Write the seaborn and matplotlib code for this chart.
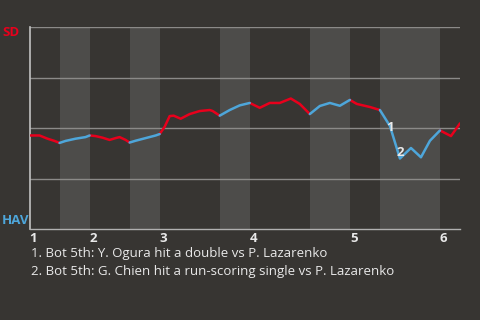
import matplotlib
matplotlib.use("Agg")
import matplotlib.pyplot as plt
import seaborn as sns
import pandas as pd
import numpy as np

# Plate-appearance index (x) and San Diego win probability (y)
pa = [0.0, 1.0, 1.8, 2.5, 3.0,
      3.6, 4.6, 5.6, 6.0,
      6.6, 7.3, 8.0, 8.6, 9.0, 9.6, 10.0,
      10.6, 11.6, 12.6, 13.0,
      13.5, 14.0, 14.4, 15.1, 16.0, 17.0, 18.0, 18.3, 19.0,
      20.0, 21.0, 22.0,
      23.0, 24.0, 25.0, 26.1, 27.0, 28.0,
      29.0, 30.0, 31.0, 32.0,
      32.7, 34.0, 35.0,
      36.0, 37.0, 38.1, 39.1, 40.0, 41.0,
      42.1, 43.0]
sd_wp = [0.463, 0.463, 0.447, 0.436, 0.426,
         0.436, 0.447, 0.455, 0.463,
         0.460, 0.452, 0.441, 0.450, 0.455, 0.441, 0.428,
         0.437, 0.450, 0.463, 0.470,
         0.506, 0.559, 0.561, 0.546, 0.569, 0.584, 0.589, 0.584, 0.561,
         0.589, 0.612, 0.624,
         0.600, 0.624, 0.624, 0.646, 0.619, 0.569,
         0.609, 0.624, 0.610, 0.639,
         0.619, 0.604, 0.589,
         0.510, 0.349, 0.401, 0.355, 0.437, 0.488,
         0.460, 0.523]

# Half-inning boundaries (in plate appearances): top 1, bot 1, top 2, ...
half_bounds = [0, 3, 6, 10, 13, 19, 22, 28, 32, 35, 41, 43]
inning_labels = ["1", "2", "3", "4", "5", "6"]

# Key plays
event_pa = [36.0, 37.0]
event_wp = [0.510, 0.349]
event_tags = ["1", "2"]
notes = ["1. Bot 5th: Y. Ogura hit a double vs P. Lazarenko",
         "2. Bot 5th: G. Chien hit a run-scoring single vs P. Lazarenko"]

home_team, away_team = "HAV", "SD"
RED = "#e8001c"
BLUE = "#4ea6da"
BG = "#373532"
BAND = "#4d4c4a"
GRID = "#8b8a88"
TXT = "#e9e9e9"

# Split the series into half-innings, sharing the boundary points
rows = []
for h in range(len(half_bounds) - 1):
    lo, hi = half_bounds[h], half_bounds[h + 1]
    team = away_team if h % 2 == 0 else home_team
    for x, y in zip(pa, sd_wp):
        if lo - 1e-9 <= x <= hi + 1e-9:
            rows.append({"pa": x, "wp": y, "half": h, "team": team})
df = pd.DataFrame(rows)

sns.set_style("dark", {"axes.facecolor": BG, "figure.facecolor": BG})
plt.rcParams["font.family"] = ["Open Sans", "DejaVu Sans"]

fig = plt.figure(figsize=(4.8, 3.2), dpi=100, facecolor=BG)
ax = fig.add_axes([29.5 / 480, (320 - 229) / 320, (460 - 29.5) / 480, 202 / 320])
ax.set_facecolor(BG)

# Shade the bottom halves of each inning
for h in range(1, len(half_bounds) - 1, 2):
    ax.axvspan(half_bounds[h], half_bounds[h + 1], color=BAND, lw=0, zorder=0)

for yv in [0.25, 0.5, 0.75, 1.0]:
    ax.axhline(yv, color=GRID, lw=1, zorder=1)

sns.lineplot(data=df, x="pa", y="wp", hue="team", units="half", estimator=None,
             palette={away_team: RED, home_team: BLUE}, lw=1.8, legend=False,
             ax=ax, zorder=3)

for x, y, t in zip(event_pa, event_wp, event_tags):
    off = -2 if t == "1" else 6
    ax.annotate(t, (x, y), xytext=(0, off), textcoords="offset pixels",
                ha="center", va="center", color=TXT, fontsize=9.5,
                fontweight="bold", zorder=5)

ax.set_xlim(0, 43)
ax.set_ylim(0, 1)
ax.set_xlabel("")
ax.set_ylabel("")
ax.set_yticks([])
inning_starts = [half_bounds[i] for i in range(0, len(half_bounds) - 1, 2)]
ax.set_xticks(inning_starts)
ax.set_xticklabels(inning_labels, color=TXT, fontsize=9.5, fontweight="bold",
                   ha="left")
ax.tick_params(axis="x", length=0, pad=2)
for s in ["top", "right"]:
    ax.spines[s].set_visible(False)
ax.spines["left"].set_color("#c2c2c2")
ax.spines["left"].set_linewidth(1.2)
ax.spines["bottom"].set_color("#b0b0b0")
ax.spines["bottom"].set_linewidth(1)
ax.grid(False)

fig.text(2 / 480, (320 - 33) / 320, away_team, color=RED, fontsize=9.5,
         fontweight="bold", ha="left", va="center")
fig.text(2 / 480, (320 - 220) / 320, home_team, color=BLUE, fontsize=9.5,
         fontweight="bold", ha="left", va="center")

fig.text(31 / 480, (320 - 254) / 320, notes[0], color=TXT, fontsize=9.5,
         ha="left", va="center")
fig.text(31 / 480, (320 - 271) / 320, notes[1], color=TXT, fontsize=9.5,
         ha="left", va="center")

fig.savefig("out.png", dpi=100, facecolor=BG)
